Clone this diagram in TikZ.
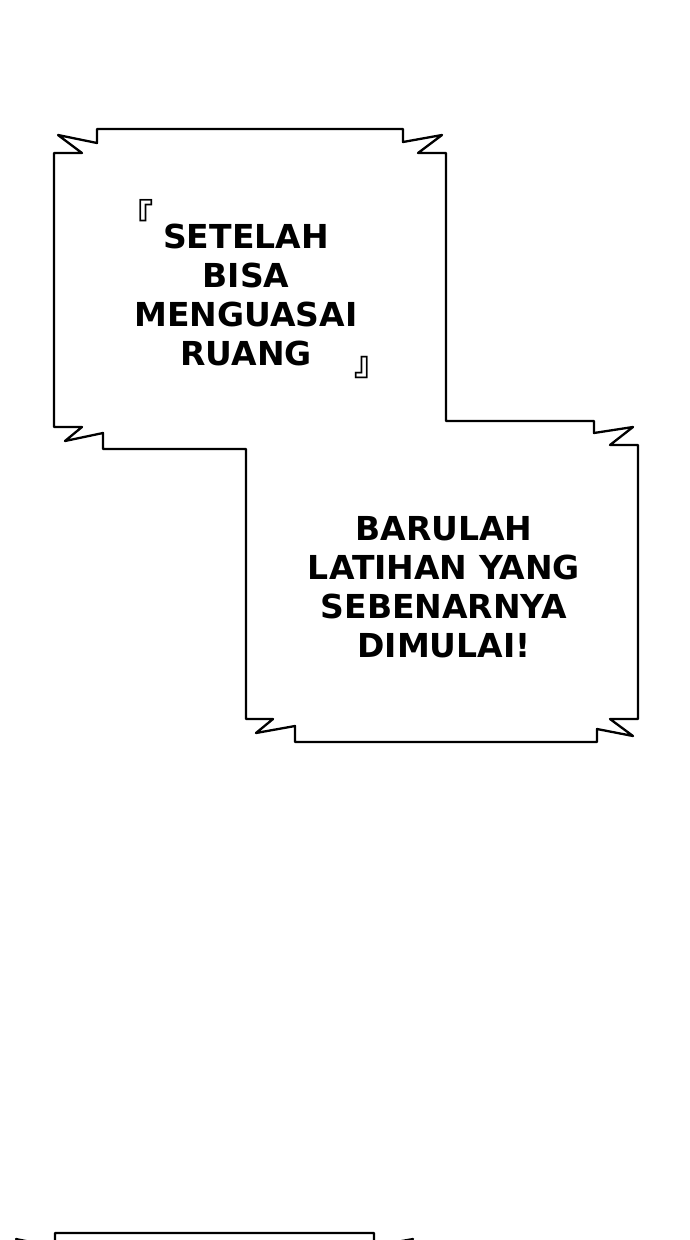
\documentclass[tikz,border=0pt]{standalone}
\usepackage{fontspec}
\usepackage{tikz}
\newfontfamily\bubblefont{DejaVu Sans}
\newfontfamily\cjk{Noto Sans CJK SC}

\begin{document}
\begin{tikzpicture}[x=1pt,y=1pt,yscale=-1,xscale=1,
  panel/.style={draw=black, fill=white, line width=2.3pt, line join=round},
  speech/.style={align=center, inner sep=0pt, font=\bubblefont\bfseries\fontsize{33}{39}\selectfont},
  bracket/.style={inner sep=0pt, font=\cjk\bfseries\fontsize{34}{34}\selectfont}]
\useasboundingbox (0,0) rectangle (690,1240);
\clip (0,0) rectangle (690,1240);

%Shape: two joined panels
\draw [panel] (97,129) -- (403,129) -- (403,142) -- (442,135) -- (418,153) -- (446,153)
  -- (446,421) -- (594,421) -- (594,433) -- (633,427) -- (610,445) -- (638,445)
  -- (638,719) -- (610,719) -- (633,736) -- (597,729) -- (597,742)
  -- (295,742) -- (295,726) -- (256,733) -- (273,719) -- (246,719)
  -- (246,449) -- (103,449) -- (103,433) -- (65,441) -- (82,427) -- (54,427)
  -- (54,153) -- (82,153) -- (58,135) -- (97,143) -- cycle ;

%Shape: next panel, cut by the page
\draw [panel] (40,1257) -- (16,1239) -- (55,1247) -- (55,1233) -- (374,1233)
  -- (374,1246) -- (413,1239) -- (389,1257) ;

% Text Node
\node [speech] (ruang) at (246,294.5) {SETELAH\\BISA\\MENGUASAI\\RUANG};
% Text Node
\node [bracket] (open) at (136,214) {『};
% Text Node
\node [bracket] (close) at (371,368) {』};
% Text Node
\node [speech] (mulai) at (444,587.5) {BARULAH\\LATIHAN YANG\\SEBENARNYA\\DIMULAI!};

\end{tikzpicture}
\end{document}
